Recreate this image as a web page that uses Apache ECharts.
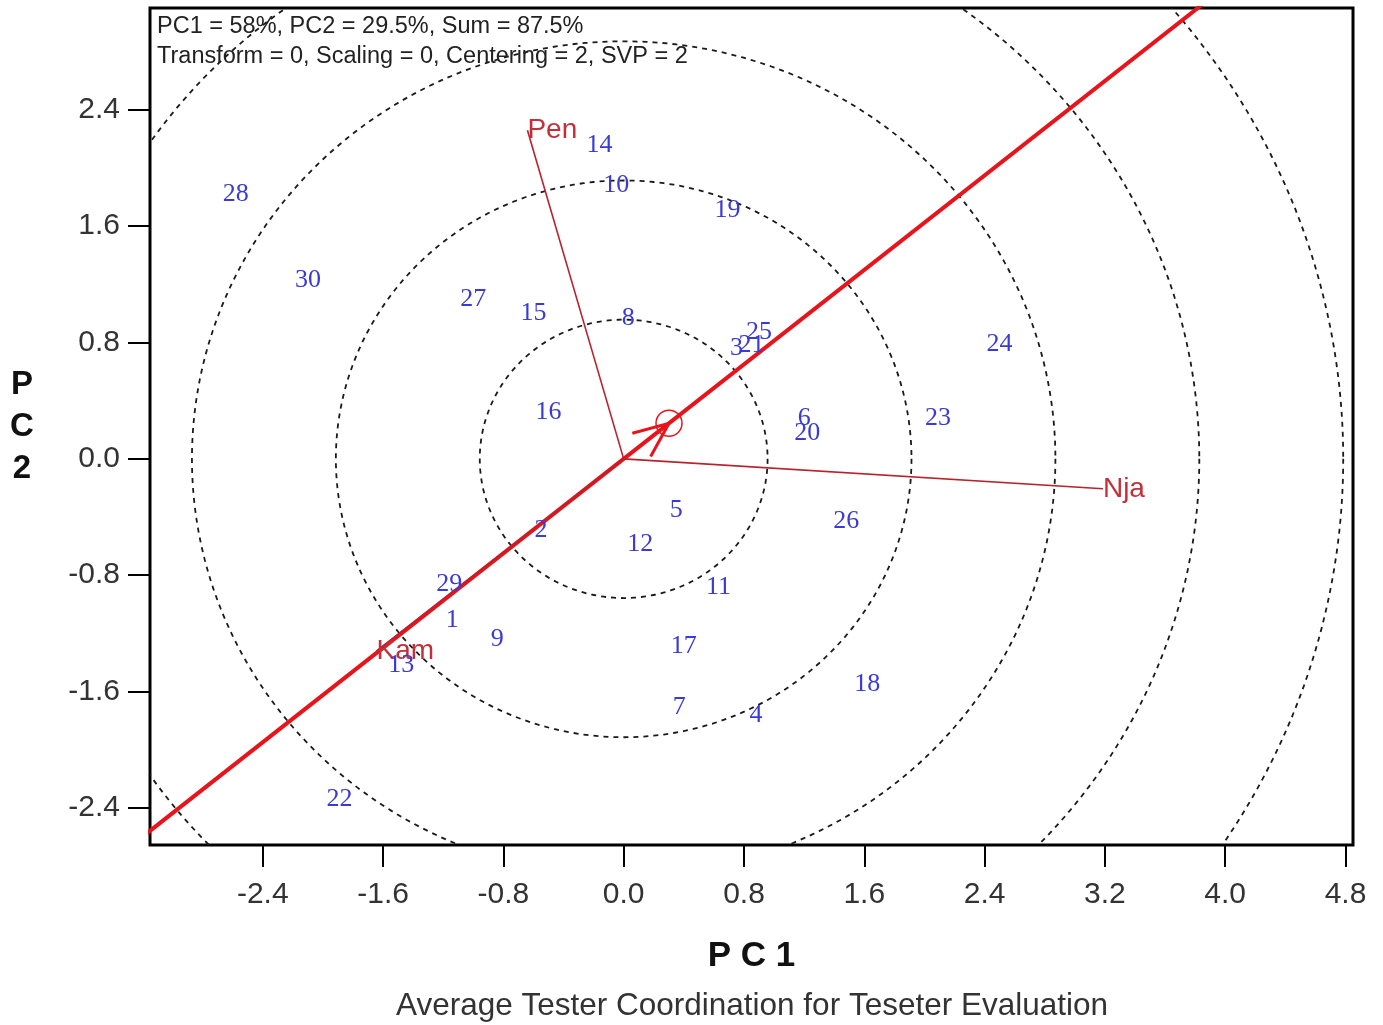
<!DOCTYPE html>
<html>
<head>
<meta charset="utf-8">
<title>Average Tester Coordination</title>
<script src="https://cdn.jsdelivr.net/npm/echarts@6/dist/echarts.min.js"></script>
<style>
  html, body { margin: 0; padding: 0; background: #ffffff; }
  #chart { width: 1383px; height: 1025px; }
</style>
</head>
<body>
<div id="chart"></div>
<script>
// Genotype scores on PC1 / PC2
const genotypeIds = ['1', '2', '3', '4', '5', '6', '7', '8', '9', '10',
  '11', '12', '13', '14', '15', '16', '17', '18', '19', '20',
  '21', '22', '23', '24', '25', '26', '27', '28', '29', '30'];
const genotypeX = [-1.14, -0.55, 0.75, 0.88, 0.35, 1.20, 0.37, 0.03, -0.84, -0.05,
  0.63, 0.11, -1.48, -0.16, -0.60, -0.50, 0.40, 1.62, 0.69, 1.22,
  0.85, -1.89, 2.09, 2.50, 0.90, 1.48, -1.00, -2.58, -1.16, -2.10];
const genotypeY = [-1.11, -0.49, 0.76, -1.76, -0.35, 0.28, -1.71, 0.97, -1.24, 1.88,
  -0.88, -0.59, -1.42, 2.16, 1.00, 0.32, -1.29, -1.55, 1.71, 0.18,
  0.78, -2.34, 0.28, 0.79, 0.87, -0.43, 1.10, 1.82, -0.86, 1.23];

// Tester (environment) vectors
const testerNames = ['Pen', 'Nja', 'Kam'];
const testerX = [-0.64, 3.187, -1.643];
const testerY = [2.26, -0.206, -1.32];

// Concentric reference rings around the biplot origin
const ringRadii = [0.957, 1.914, 2.871, 3.828, 4.785];

// Axis ranges and tick labels
const xRange = [-3.15, 4.85];
const yRange = [-2.655, 3.10];
const xTicks = [-2.4, -1.6, -0.8, 0.0, 0.8, 1.6, 2.4, 3.2, 4.0, 4.8];
const yTicks = [-2.4, -1.6, -0.8, 0.0, 0.8, 1.6, 2.4];

// Average tester coordinate: mean of the tester vectors
const atcX = testerX.reduce((a, b) => a + b, 0) / testerX.length;
const atcY = testerY.reduce((a, b) => a + b, 0) / testerY.length;

const RED = '#e8141b';
const TESTER_RED = '#b8222c';
const BLUE = '#3a3ad4';
const SANS = '"Liberation Sans", Arial, Helvetica, sans-serif';
const SERIF = '"Liberation Serif", "Times New Roman", serif';

function gridClip(params) {
  const cs = params.coordSys;
  return { type: 'rect', shape: { x: cs.x, y: cs.y, width: cs.width, height: cs.height } };
}

const chart = echarts.init(document.getElementById('chart'), null, { renderer: 'canvas' });

const option = {
  animation: false,
  backgroundColor: '#ffffff',
  grid: {
    left: 150, right: 30, top: 8, bottom: 180,
    show: true,
    borderColor: '#000000',
    borderWidth: 3,
    backgroundColor: 'transparent',
    containLabel: false,
    outerBoundsMode: 'none'
  },
  xAxis: {
    type: 'value',
    min: xRange[0],
    max: xRange[1],
    position: 'bottom',
    axisLine: { show: false, onZero: false },
    splitLine: { show: false },
    axisTick: {
      show: true, inside: false, length: 22,
      customValues: xTicks,
      lineStyle: { color: '#000000', width: 2 }
    },
    axisLabel: {
      customValues: xTicks,
      margin: 35,
      fontSize: 30,
      fontFamily: SANS,
      color: '#333333',
      formatter: v => v.toFixed(1)
    },
    name: 'P C 1',
    nameLocation: 'middle',
    nameGap: 111,
    nameTextStyle: {
      fontSize: 35, fontWeight: 'bold', fontFamily: SANS, color: '#111111',
      verticalAlign: 'middle'
    }
  },
  yAxis: {
    type: 'value',
    min: yRange[0],
    max: yRange[1],
    position: 'left',
    axisLine: { show: false, onZero: false },
    splitLine: { show: false },
    axisTick: {
      show: true, inside: false, length: 22,
      customValues: yTicks,
      lineStyle: { color: '#000000', width: 2 }
    },
    axisLabel: {
      customValues: yTicks,
      margin: 30,
      fontSize: 30,
      fontFamily: SANS,
      color: '#333333',
      formatter: v => v.toFixed(1)
    },
    name: 'P\nC\n2',
    nameLocation: 'middle',
    nameRotate: 0,
    nameGap: 128,
    nameTextStyle: {
      fontSize: 33, fontWeight: 'bold', fontFamily: SANS, color: '#111111',
      lineHeight: 42, align: 'center', verticalAlign: 'middle'
    }
  },
  graphic: [
    {
      type: 'text',
      left: 157,
      top: 12,
      z: 10,
      style: {
        text: 'PC1 = 58%, PC2 = 29.5%, Sum = 87.5%\nTransform = 0, Scaling = 0, Centering = 2, SVP = 2',
        font: '23.5px ' + SANS,
        fill: '#222222',
        lineHeight: 30
      }
    },
    {
      type: 'text',
      x: 752,
      y: 1006,
      style: {
        text: 'Average Tester Coordination for Teseter Evaluation',
        font: '31.5px ' + SANS,
        fill: '#333333',
        align: 'center',
        verticalAlign: 'middle'
      }
    }
  ],
  series: [
    {
      // dashed concentric rings
      type: 'custom',
      name: 'rings',
      z: 1,
      clip: true,
      data: ringRadii.map(r => [r]),
      renderItem: function (params, api) {
        const r = api.value(0);
        const c = api.coord([0, 0]);
        const rx = api.size([r, 0])[0];
        const ry = api.size([0, r])[1];
        const pts = [];
        for (let deg = 0; deg <= 360; deg += 1) {
          const a = deg * Math.PI / 180;
          pts.push([c[0] + rx * Math.cos(a), c[1] + ry * Math.sin(a)]);
        }
        return {
          type: 'polyline',
          clipPath: gridClip(params),
          shape: { points: pts },
          style: { stroke: '#1a1a1a', lineWidth: 1.8, lineDash: [5, 5], fill: null }
        };
      }
    },
    {
      // average tester coordinate axis through the origin
      type: 'line',
      name: 'ATC',
      z: 2,
      clip: true,
      symbol: 'none',
      silent: true,
      lineStyle: { color: RED, width: 4 },
      data: [[-12 * atcX, -12 * atcY], [14 * atcX, 14 * atcY]]
    },
    {
      // arrow head and marker at the average tester
      type: 'custom',
      name: 'ATC marker',
      z: 3,
      data: [[atcX, atcY]],
      renderItem: function (params, api) {
        const tip = api.coord([api.value(0), api.value(1)]);
        const o = api.coord([0, 0]);
        const ang = Math.atan2(o[1] - tip[1], o[0] - tip[0]);
        const L = 38, spread = 23 * Math.PI / 180;
        const b1 = [tip[0] + L * Math.cos(ang + spread), tip[1] + L * Math.sin(ang + spread)];
        const b2 = [tip[0] + L * Math.cos(ang - spread), tip[1] + L * Math.sin(ang - spread)];
        return {
          type: 'group',
          children: [
            { type: 'polyline', shape: { points: [b1, tip, b2] },
              style: { stroke: RED, lineWidth: 3, fill: null } },
            { type: 'circle', shape: { cx: tip[0], cy: tip[1], r: 13 },
              style: { stroke: RED, lineWidth: 1.5, fill: null } }
          ]
        };
      }
    },
    {
      // tester vectors with their names
      type: 'custom',
      name: 'testers',
      z: 4,
      data: testerX.map((x, i) => [x, testerY[i]]),
      renderItem: function (params, api) {
        const p = api.coord([api.value(0), api.value(1)]);
        const o = api.coord([0, 0]);
        return {
          type: 'group',
          children: [
            { type: 'line', shape: { x1: o[0], y1: o[1], x2: p[0], y2: p[1] },
              style: { stroke: TESTER_RED, lineWidth: 1.6 } },
            { type: 'text', x: p[0], y: p[1],
              style: { text: testerNames[params.dataIndex], fill: '#c3303a',
                font: '28px ' + SANS, align: 'left', verticalAlign: 'middle' } }
          ]
        };
      }
    },
    {
      // genotype labels
      type: 'custom',
      name: 'genotypes',
      z: 5,
      data: genotypeX.map((x, i) => [x, genotypeY[i]]),
      renderItem: function (params, api) {
        const p = api.coord([api.value(0), api.value(1)]);
        return {
          type: 'text',
          x: p[0], y: p[1],
          style: {
            text: genotypeIds[params.dataIndex],
            fill: BLUE,
            font: '26px ' + SERIF,
            align: 'center',
            verticalAlign: 'middle'
          }
        };
      }
    }
  ]
};

chart.setOption(option);
</script>
</body>
</html>
